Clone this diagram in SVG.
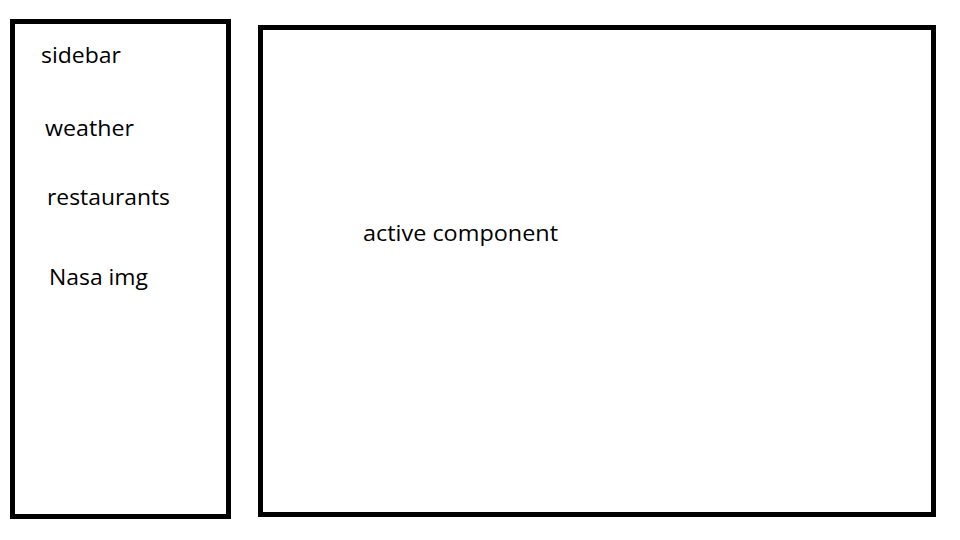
<svg xmlns="http://www.w3.org/2000/svg" width="960" height="540" viewBox="0 0 960 540">
<style>
.box{fill:none;stroke:#000;stroke-width:5}
.t{font-family:"Open Sans","Liberation Sans",sans-serif;font-size:21px;fill:#000}
</style>
<rect width="960" height="540" fill="#fff"/>
<g id="sidebar">
<rect class="box" x="12.5" y="21.5" width="216" height="495"/>
<text class="t" x="41" y="63" textLength="80" lengthAdjust="spacingAndGlyphs">sidebar</text>
<text class="t" x="45" y="136" textLength="89" lengthAdjust="spacingAndGlyphs">weather</text>
<text class="t" x="47" y="205" textLength="123" lengthAdjust="spacingAndGlyphs">restaurants</text>
<text class="t" x="49" y="285" textLength="99" lengthAdjust="spacingAndGlyphs">Nasa img</text>
</g>
<g id="active-component">
<rect class="box" x="260.5" y="27.5" width="673" height="487"/>
<text class="t" x="363" y="241" textLength="195" lengthAdjust="spacingAndGlyphs">active component</text>
</g>
<g id="connectors"></g>
</svg>
